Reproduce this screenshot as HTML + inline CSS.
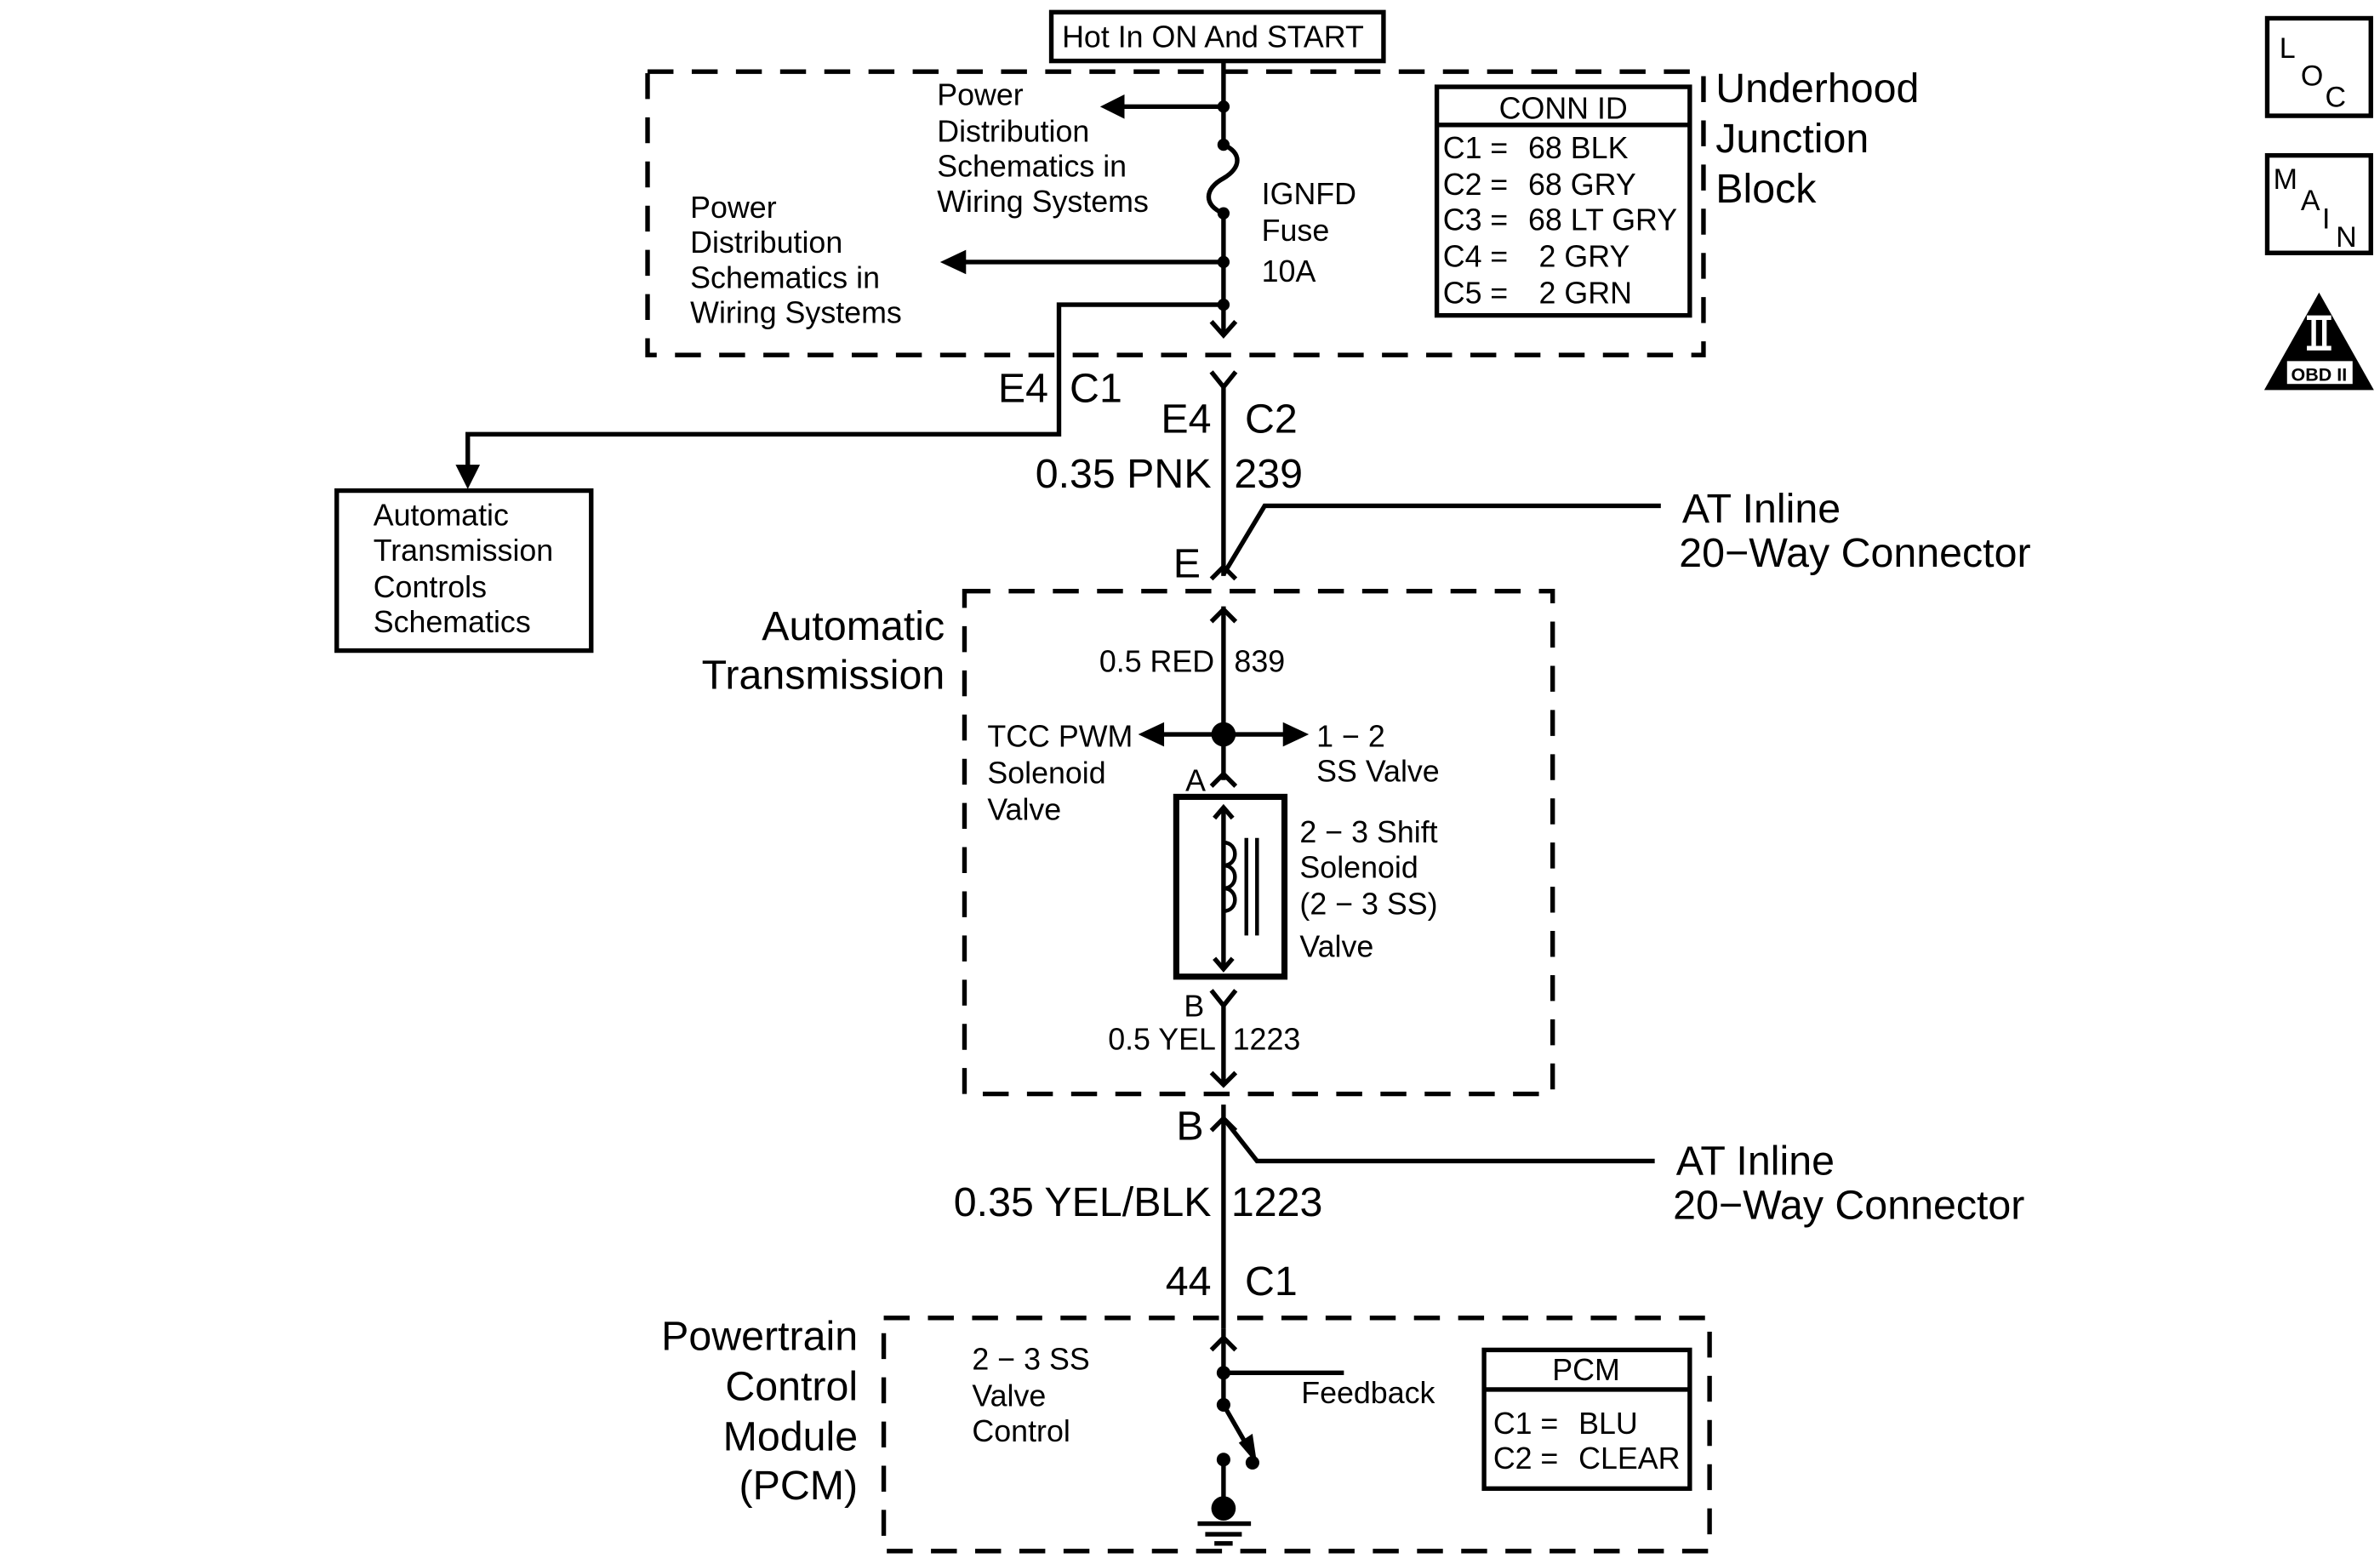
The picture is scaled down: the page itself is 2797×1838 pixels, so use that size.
<!DOCTYPE html>
<html><head><style>html,body{margin:0;padding:0;background:#fff}svg{display:block}text{white-space:pre}</style></head><body>
<svg xmlns="http://www.w3.org/2000/svg" width="2797" height="1838" viewBox="0 0 1562 1026.5" preserveAspectRatio="none" font-family="Liberation Sans, sans-serif" fill="#000">
<g fill="none" stroke="#000" stroke-width="3">
<rect x="690" y="8" width="218" height="32"/>
<rect x="425" y="47" width="693" height="186" stroke-dasharray="17 12"/>
<rect x="633" y="388" width="386" height="330" stroke-dasharray="17 12"/>
<rect x="580" y="865" width="542" height="153" stroke-dasharray="17 12"/>
<rect x="943" y="57" width="166" height="150"/>
<line x1="943" y1="82" x2="1109" y2="82"/>
<rect x="974" y="886" width="135" height="91"/>
<line x1="974" y1="912" x2="1109" y2="912"/>
<rect x="221" y="322" width="167" height="105"/>
<rect x="772" y="523" width="71" height="118" stroke-width="4"/>
<path d="M803 40V95 M803 140V220"/>
<path d="M803 95 C815 100 815 110 803 117 C790 124 790 135 803 140" />
<path d="M795 211 L803 220 L811 211"/>
<path d="M803 70H735 M803 172H632 M803 200H695V285H307V308"/>
<path d="M795 244 L803 254 L811 244 M803 254V378"/>
<path d="M795 380 L803 372 L811 380 M803 377 L830 332H1090"/>
<path d="M803 398V512 M795 408 L803 400 L811 408"/>
<path d="M803 482H760 M803 482H846"/>
<path d="M795 516 L803 508 L811 516"/>
<path d="M803 531V635 M797 537 L803 530 L809 537 M797 629 L803 636 L809 629"/>
<path d="M803 553 C813 553 813 568 803 568 C813 568 813 583 803 583 C813 583 813 598 803 598" stroke-width="2.5"/>
<path d="M818 550V614 M825 550V614" stroke-width="2.5"/>
<path d="M795 650 L803 660 L811 650 M803 660V712 M795 704 L803 712 L811 704"/>
<path d="M803 725V872 M795 742 L803 734 L811 742 M803 734 L825 762H1086"/>
<path d="M803 872V922 M803 958V990 M795 886 L803 878 L811 886 M803 901H882"/>
<path d="M803 922 L822 955" />
<line x1="786" y1="1000" x2="821" y2="1000"/>
<line x1="791" y1="1007" x2="815" y2="1007"/>
<line x1="797" y1="1013" x2="809" y2="1013"/>
<rect x="1488" y="12" width="68" height="64"/>
<rect x="1488" y="102" width="68" height="64"/>
</g>
<g stroke="none">
<circle cx="803" cy="70" r="4"/><circle cx="803" cy="95" r="4"/><circle cx="803" cy="140" r="4"/><circle cx="803" cy="172" r="4"/><circle cx="803" cy="200" r="4"/>
<path d="M722 70 L738 62 L738 78Z"/>
<path d="M617 172 L634 164 L634 180Z"/>
<path d="M307 321 L299 305 L315 305Z"/>
<circle cx="803" cy="482" r="8"/>
<path d="M747 482 L764 474 L764 490Z"/>
<path d="M859 482 L842 474 L842 490Z"/>
<circle cx="803" cy="901" r="4.5"/><circle cx="803" cy="922" r="4.5"/><circle cx="822" cy="960" r="4.5"/><circle cx="803" cy="958" r="4.5"/>
<circle cx="803" cy="990" r="8"/>
<path d="M825 961 L813 947 L822 941Z"/>
<path d="M1522 192 L1486 256 L1558 256Z"/>
</g>
<rect x="1501" y="237" width="43" height="15" fill="#fff"/>
<rect x="1514" y="207" width="16" height="3" fill="#fff"/><rect x="1514" y="227" width="16" height="3" fill="#fff"/>
<rect x="1517" y="210" width="3" height="17" fill="#fff"/><rect x="1524" y="210" width="3" height="17" fill="#fff"/>
<text x="1522" y="250" font-size="12" font-weight="bold" text-anchor="middle">OBD II</text>
<g font-size="19">
<text x="1496" y="38">L</text><text x="1510" y="56">O</text><text x="1526" y="70">C</text>
<text x="1492" y="124">M</text><text x="1510" y="138">A</text><text x="1524" y="150">I</text><text x="1533" y="162">N</text>
</g>
<g font-size="20">
<text x="697" y="31">Hot In ON And START</text>
<text x="615" y="69">Power</text><text x="615" y="93">Distribution</text><text x="615" y="116">Schematics in</text><text x="615" y="139">Wiring Systems</text>
<text x="453" y="143">Power</text><text x="453" y="166">Distribution</text><text x="453" y="189">Schematics in</text><text x="453" y="212">Wiring Systems</text>
<text x="828" y="134">IGNFD</text><text x="828" y="158">Fuse</text><text x="828" y="185">10A</text>
<text x="1026" y="78" text-anchor="middle">CONN ID</text>
<text x="947" y="104">C1</text><text x="947" y="128">C2</text><text x="947" y="151">C3</text><text x="947" y="175">C4</text><text x="947" y="199">C5</text>
<text x="978" y="104">=</text><text x="978" y="128">=</text><text x="978" y="151">=</text><text x="978" y="175">=</text><text x="978" y="199">=</text>
<text x="1003" y="104">68 BLK</text><text x="1003" y="128">68 GRY</text><text x="1003" y="151">68 LT GRY</text><text x="1010" y="175">2 GRY</text><text x="1010" y="199">2 GRN</text>
<text x="245" y="345">Automatic</text><text x="245" y="368">Transmission</text><text x="245" y="392">Controls</text><text x="245" y="415">Schematics</text>
<text x="797" y="441" text-anchor="end">0.5 RED</text><text x="810" y="441">839</text>
<text x="648" y="490">TCC PWM</text><text x="648" y="514">Solenoid</text><text x="648" y="538">Valve</text>
<text x="864" y="490">1 − 2</text><text x="864" y="513">SS Valve</text>
<text x="778" y="519">A</text>
<text x="853" y="553">2 − 3 Shift</text><text x="853" y="576">Solenoid</text><text x="853" y="600">(2 − 3 SS)</text><text x="853" y="628">Valve</text>
<text x="777" y="667">B</text>
<text x="798" y="689" text-anchor="end">0.5 YEL</text><text x="809" y="689">1223</text>
<text x="638" y="899">2 − 3 SS</text><text x="638" y="923">Valve</text><text x="638" y="946">Control</text>
<text x="854" y="921">Feedback</text>
<text x="1041" y="906" text-anchor="middle">PCM</text>
<text x="980" y="941">C1</text><text x="1011" y="941">=</text><text x="1036" y="941">BLU</text>
<text x="980" y="964">C2</text><text x="1011" y="964">=</text><text x="1036" y="964">CLEAR</text>
</g>
<g font-size="27">
<text x="1126" y="67">Underhood</text><text x="1126" y="100">Junction</text><text x="1126" y="133">Block</text>
<text x="688" y="264" text-anchor="end">E4</text><text x="702" y="264">C1</text>
<text x="795" y="284" text-anchor="end">E4</text><text x="817" y="284">C2</text>
<text x="795" y="320" text-anchor="end">0.35 PNK</text><text x="810" y="320">239</text>
<text x="1104" y="343">AT Inline</text><text x="1102" y="372">20−Way Connector</text>
<text x="788" y="379" text-anchor="end">E</text>
<text x="620" y="420" text-anchor="end">Automatic</text><text x="620" y="452" text-anchor="end">Transmission</text>
<text x="790" y="748" text-anchor="end">B</text>
<text x="1100" y="771">AT Inline</text><text x="1098" y="800">20−Way Connector</text>
<text x="795" y="798" text-anchor="end">0.35 YEL/BLK</text><text x="808" y="798">1223</text>
<text x="795" y="850" text-anchor="end">44</text><text x="817" y="850">C1</text>
<text x="563" y="886" text-anchor="end">Powertrain</text><text x="563" y="919" text-anchor="end">Control</text><text x="563" y="952" text-anchor="end">Module</text><text x="563" y="984" text-anchor="end">(PCM)</text>
</g>
</svg>
</body></html>
